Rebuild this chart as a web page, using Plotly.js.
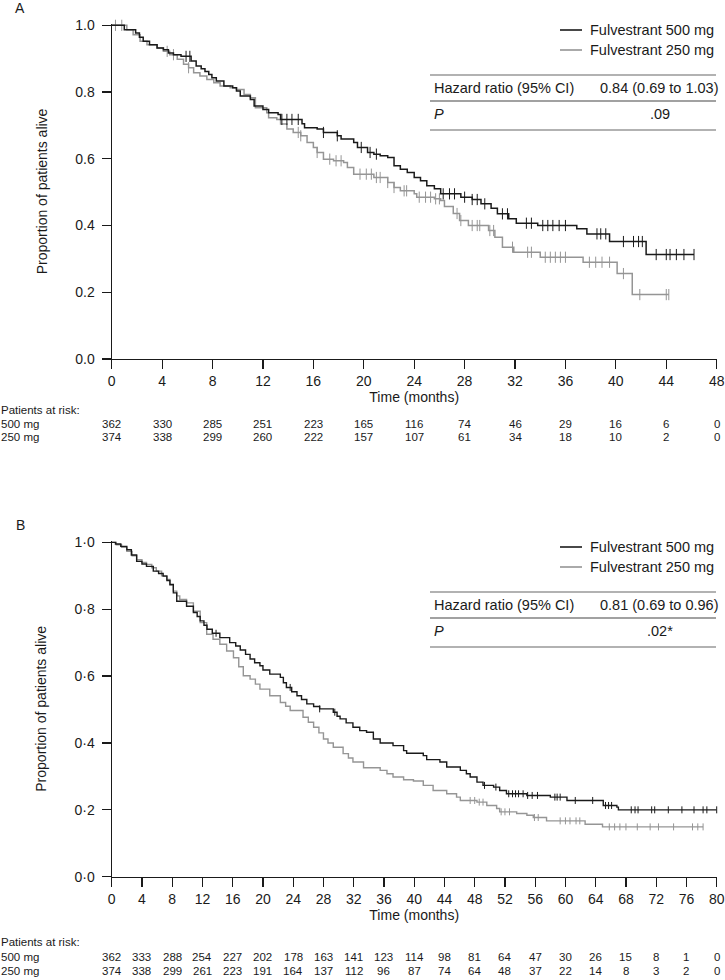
<!DOCTYPE html>
<html>
<head>
<meta charset="utf-8">
<script src="https://cdn.plot.ly/plotly-3.0.1.min.js"></script>
<style>
  html, body { margin: 0; padding: 0; background: #fff; }
  #chart { width: 725px; height: 980px; }
</style>
</head>
<body>
<div id="chart"></div>
<script>
// Panel A - step times (months) and survival after each step
const monthsA500 = [0, 1.0, 1.9, 2.2, 2.5, 3.0, 3.6, 4.1, 4.5, 4.9, 5.5, 6.3, 6.7, 7.1, 7.4, 7.7, 7.95, 8.3, 8.9, 9.6, 9.9, 10.2, 11.0, 11.3, 12.0, 12.45, 13.2, 13.4, 15.1, 15.3, 16.3, 16.8, 17.9, 18.2, 19.2, 19.5, 20.3, 20.8, 21.3, 21.9, 22.4, 22.9, 23.45, 24.0, 24.5, 25.0, 25.6, 26.1, 27.7, 28.6, 29.3, 30.1, 30.6, 31.5, 32.1, 33.8, 36.9, 37.7, 39.5, 42.4, 46.2];
const survA500   = [1.0, 0.987, 0.977, 0.964, 0.952, 0.942, 0.932, 0.927, 0.917, 0.912, 0.907, 0.893, 0.878, 0.870, 0.862, 0.853, 0.843, 0.833, 0.818, 0.813, 0.803, 0.788, 0.778, 0.758, 0.748, 0.738, 0.733, 0.718, 0.705, 0.693, 0.689, 0.679, 0.669, 0.659, 0.649, 0.634, 0.619, 0.614, 0.609, 0.604, 0.579, 0.569, 0.559, 0.544, 0.534, 0.519, 0.510, 0.495, 0.485, 0.478, 0.465, 0.452, 0.435, 0.420, 0.407, 0.400, 0.390, 0.375, 0.352, 0.313, 0.313];
const censorA500 = [5.9, 6.2, 13.5, 13.9, 14.3, 14.8, 16.8, 17.9, 19.8, 20.5, 21.0, 26.3, 26.8, 27.2, 28.0, 28.6, 29.0, 29.6, 31.0, 31.4, 32.9, 33.3, 34.2, 34.6, 35.0, 35.5, 36.0, 38.5, 38.8, 39.2, 40.6, 41.4, 41.8, 42.1, 43.2, 44.0, 44.3, 44.8, 45.4, 46.2];

const monthsA250 = [0, 1.2, 1.7, 2.25, 2.8, 3.6, 4.1, 4.6, 5.2, 5.7, 6.1, 6.5, 7.0, 7.55, 8.1, 8.6, 9.4, 9.9, 10.5, 11.0, 11.4, 12.3, 12.45, 13.1, 13.4, 13.9, 14.4, 15.0, 15.5, 16.0, 16.3, 16.8, 17.6, 18.4, 18.7, 19.2, 20.8, 21.9, 22.4, 22.9, 24.0, 24.2, 25.6, 26.1, 26.4, 27.1, 27.6, 28.3, 29.9, 30.4, 31.0, 31.9, 34.0, 37.4, 40.1, 41.3, 44.2];
const survA250   = [1.0, 0.987, 0.972, 0.952, 0.942, 0.932, 0.922, 0.912, 0.898, 0.883, 0.873, 0.858, 0.848, 0.838, 0.828, 0.818, 0.813, 0.808, 0.793, 0.783, 0.753, 0.738, 0.723, 0.718, 0.704, 0.689, 0.679, 0.669, 0.649, 0.634, 0.619, 0.599, 0.594, 0.589, 0.574, 0.554, 0.544, 0.529, 0.514, 0.504, 0.495, 0.485, 0.480, 0.475, 0.457, 0.436, 0.415, 0.400, 0.385, 0.365, 0.335, 0.320, 0.305, 0.290, 0.256, 0.193, 0.193];
const censorA250 = [0.3, 0.8, 4.4, 4.9, 6.1, 14.8, 15.0, 16.3, 17.3, 17.8, 18.2, 19.7, 20.2, 20.6, 21.0, 21.3, 21.9, 22.4, 23.2, 23.4, 24.4, 24.9, 25.3, 25.7, 26.0, 27.4, 27.7, 28.6, 29.0, 29.2, 30.0, 30.3, 31.8, 33.0, 33.3, 34.4, 34.8, 35.2, 35.6, 36.0, 37.9, 38.4, 38.9, 39.5, 40.6, 41.9, 44.0, 44.2];

// Panel B - step times (months) and survival after each step
const monthsB500 = [0, 0.5, 1.2, 2.0, 2.6, 3.3, 4.0, 4.6, 5.5, 6.2, 6.8, 7.3, 7.7, 8.15, 8.6, 9.9, 10.8, 11.3, 11.7, 12.2, 12.6, 13.3, 14.3, 15.6, 16.4, 17.0, 17.7, 18.3, 18.9, 19.6, 20.0, 20.9, 22.3, 22.7, 23.1, 23.8, 24.5, 25.1, 25.8, 26.7, 27.5, 29.3, 29.8, 30.2, 31.0, 31.9, 32.8, 33.7, 34.6, 35.5, 37.2, 38.6, 39.0, 41.2, 41.65, 43.4, 44.3, 46.1, 46.9, 47.4, 48.3, 49.1, 50.5, 51.3, 52.2, 54.9, 58.0, 60.2, 65.0, 66.8, 67.0, 80.0];
const survB500   = [1.0, 0.995, 0.988, 0.978, 0.962, 0.943, 0.935, 0.928, 0.914, 0.907, 0.899, 0.886, 0.874, 0.849, 0.824, 0.809, 0.790, 0.778, 0.765, 0.752, 0.740, 0.728, 0.715, 0.700, 0.690, 0.678, 0.665, 0.651, 0.640, 0.631, 0.618, 0.606, 0.596, 0.580, 0.566, 0.553, 0.541, 0.530, 0.517, 0.509, 0.502, 0.492, 0.480, 0.472, 0.460, 0.447, 0.437, 0.432, 0.412, 0.400, 0.392, 0.377, 0.369, 0.362, 0.350, 0.343, 0.328, 0.318, 0.308, 0.298, 0.283, 0.273, 0.268, 0.258, 0.248, 0.243, 0.238, 0.228, 0.213, 0.208, 0.200, 0.200];
const censorB500 = [13.8, 23.6, 27.5, 29.5, 49.3, 50.8, 52.5, 53.0, 53.4, 53.8, 54.4, 55.0, 55.6, 56.3, 58.6, 58.9, 59.3, 61.3, 63.6, 65.3, 65.7, 66.1, 68.7, 69.2, 69.6, 71.4, 71.8, 73.6, 75.4, 77.0, 78.2, 78.7, 80.0];

const monthsB250 = [0, 0.6, 1.3, 2.0, 2.7, 3.3, 4.0, 4.6, 5.3, 5.9, 6.6, 7.27, 7.7, 8.15, 8.6, 9.0, 9.9, 10.8, 11.7, 12.56, 13.4, 14.3, 15.2, 16.1, 16.8, 17.4, 18.3, 19.0, 19.6, 20.9, 22.3, 23.0, 23.6, 25.3, 26.0, 26.7, 27.4, 28.0, 28.6, 29.3, 30.6, 31.3, 31.9, 33.3, 35.5, 36.4, 37.2, 38.6, 39.9, 41.2, 42.5, 44.3, 45.6, 46.1, 48.3, 49.6, 50.9, 51.3, 53.55, 54.9, 55.75, 57.5, 62.6, 64.9, 78.2];
const survB250   = [1.0, 0.993, 0.985, 0.973, 0.960, 0.948, 0.940, 0.934, 0.924, 0.914, 0.900, 0.889, 0.872, 0.854, 0.840, 0.829, 0.819, 0.794, 0.760, 0.725, 0.710, 0.695, 0.675, 0.655, 0.628, 0.601, 0.591, 0.576, 0.561, 0.541, 0.521, 0.510, 0.497, 0.477, 0.462, 0.447, 0.430, 0.412, 0.400, 0.387, 0.368, 0.355, 0.343, 0.326, 0.318, 0.308, 0.298, 0.290, 0.286, 0.273, 0.258, 0.248, 0.238, 0.228, 0.223, 0.213, 0.204, 0.194, 0.189, 0.184, 0.177, 0.167, 0.157, 0.149, 0.149];
const censorB250 = [47.4, 48.0, 48.6, 49.1, 51.5, 52.0, 52.6, 55.9, 56.4, 59.3, 60.0, 60.6, 61.4, 61.9, 65.8, 66.5, 67.2, 68.0, 69.5, 71.2, 72.3, 74.3, 76.8, 77.5, 78.2];

// Patients at risk
const riskMonthsA = [0, 4, 8, 12, 16, 20, 24, 28, 32, 36, 40, 44, 48];
const riskA500 = [362, 330, 285, 251, 223, 165, 116, 74, 46, 29, 16, 6, 0];
const riskA250 = [374, 338, 299, 260, 222, 157, 107, 61, 34, 18, 10, 2, 0];
const riskMonthsB = [0, 4, 8, 12, 16, 20, 24, 28, 32, 36, 40, 44, 48, 52, 56, 60, 64, 68, 72, 76, 80];
const riskB500 = [362, 333, 288, 254, 227, 202, 178, 163, 141, 123, 114, 98, 81, 64, 47, 30, 26, 15, 8, 1, 0];
const riskB250 = [374, 338, 299, 261, 223, 191, 164, 137, 112, 96, 87, 74, 64, 48, 37, 22, 14, 8, 3, 2, 0];

// Axis tick labels
const yTicks = [0, 0.2, 0.4, 0.6, 0.8, 1.0];
const yLabelsA = ['0.0', '0.2', '0.4', '0.6', '0.8', '1.0'];
const yLabelsB = ['0\u00b70', '0\u00b72', '0\u00b74', '0\u00b76', '0\u00b78', '1\u00b70'];

// Table text
const seriesNames = ['Fulvestrant 500 mg', 'Fulvestrant 250 mg'];
const hazardA = '0.84 (0.69 to 1.03)';
const pA = '.09';
const hazardB = '0.81 (0.69 to 0.96)';
const pB = '.02*';

const W = 725, H = 980;
const FONT = 'Liberation Sans, Arial, Helvetica, sans-serif';
const BLACK = '#1a1a1a';
const GREY = '#959595';

// pixel -> paper helpers
const px = x => x / W;
const py = y => 1 - y / H;

// survival at a given time from the step arrays
function survAt(months, surv, t) {
  let s = surv[0];
  for (let i = 0; i < months.length; i++) {
    if (months[i] <= t) s = surv[i];
  }
  return s;
}

function curve(months, surv, color, xa, ya, width) {
  return {
    x: months, y: surv, xaxis: xa, yaxis: ya,
    type: 'scatter', mode: 'lines',
    line: { color: color, width: width, shape: 'hv' },
    hoverinfo: 'skip', showlegend: false
  };
}

function censors(cens, months, surv, color, xa, ya, size) {
  return {
    x: cens, y: cens.map(t => survAt(months, surv, t)), xaxis: xa, yaxis: ya,
    type: 'scatter', mode: 'markers', cliponaxis: false,
    marker: { symbol: 'line-ns-open', size: size, color: color, line: { width: 1, color: color } },
    hoverinfo: 'skip', showlegend: false
  };
}

const traces = [
  curve(monthsA250, survA250, GREY, 'x', 'y', 1.5),
  censors(censorA250, monthsA250, survA250, GREY, 'x', 'y', 8),
  curve(monthsA500, survA500, BLACK, 'x', 'y', 1.5),
  censors(censorA500, monthsA500, survA500, BLACK, 'x', 'y', 8),
  curve(monthsB250, survB250, GREY, 'x2', 'y2', 1.4),
  censors(censorB250, monthsB250, survB250, GREY, 'x2', 'y2', 5),
  curve(monthsB500, survB500, BLACK, 'x2', 'y2', 1.4),
  censors(censorB500, monthsB500, survB500, BLACK, 'x2', 'y2', 5)
];

const xDomain = [px(111.7), px(716.7)];

function xAxis(maxMonth, yref) {
  return {
    domain: xDomain, anchor: yref, range: [0, maxMonth],
    tickmode: 'linear', tick0: 0, dtick: 4,
    ticks: 'outside', ticklen: 9, tickwidth: 1.2, tickcolor: BLACK,
    showline: true, linecolor: BLACK, linewidth: 1.2,
    showgrid: false, zeroline: false, fixedrange: true,
    tickfont: { size: 14, color: BLACK },
    title: { text: 'Time (months)', font: { size: 14, color: BLACK }, standoff: 2 }
  };
}

function yAxis(domain, labels, xref) {
  return {
    domain: domain, anchor: xref, range: [0, 1.004],
    tickmode: 'array', tickvals: yTicks, ticktext: labels,
    ticks: 'outside', ticklen: 9, tickwidth: 1.2, tickcolor: BLACK,
    ticklabelstandoff: 4,
    showline: true, linecolor: BLACK, linewidth: 1.2,
    showgrid: false, zeroline: false, fixedrange: true,
    tickfont: { size: 14, color: BLACK },
    title: { text: 'Proportion of patients alive', font: { size: 14, color: BLACK }, standoff: 24 }
  };
}

const annotations = [];
const shapes = [];

function text(str, x, y, opts) {
  annotations.push(Object.assign({
    text: str, x: px(x), y: py(y), xref: 'paper', yref: 'paper',
    xanchor: 'left', yanchor: 'middle', showarrow: false, borderpad: 0,
    font: { size: 14.5, color: BLACK, family: FONT }
  }, opts || {}));
}

function hline(x0, x1, y, color, width) {
  shapes.push({
    type: 'line', xref: 'paper', yref: 'paper',
    x0: px(x0), x1: px(x1), y0: py(y), y1: py(y),
    line: { color: color, width: width }
  });
}

// Legend + hazard ratio table for one panel
function panelBox(top, hazard, pval) {
  hline(560, 582, top, BLACK, 1.6);
  hline(560, 582, top + 20, GREY, 1.6);
  text(seriesNames[0], 589, top);
  text(seriesNames[1], 589, top + 20);
  const t0 = top + 45;
  hline(430, 716, t0, '#666', 1.2);
  text('Hazard ratio (95% CI)', 433, t0 + 13);
  text(hazard, 720, t0 + 13, { xanchor: 'right' });
  hline(430, 716, t0 + 26, '#444', 1.2);
  text('<i>P</i>', 433, t0 + 39);
  text(pval, 660, t0 + 39, { xanchor: 'center' });
  hline(430, 716, t0 + 55, '#666', 1.2);
}

// Patients at risk block for one panel
function riskBlock(months, r500, r250, xref, yHead, y500, y250) {
  const f = { size: 11.5, color: BLACK, family: FONT };
  text('Patients at risk:', 0, yHead, { font: f });
  text('500 mg', 0, y500, { font: f });
  text('250 mg', 0, y250, { font: f });
  months.forEach((m, i) => {
    [[r500[i], y500], [r250[i], y250]].forEach(([val, yy]) => {
      annotations.push({
        text: String(val), x: m, xref: xref, y: py(yy), yref: 'paper',
        xanchor: 'center', yanchor: 'middle', showarrow: false, borderpad: 0,
        font: f
      });
    });
  });
}

text('A', 20, 8, { xanchor: 'center', font: { size: 14, color: BLACK, family: FONT } });
text('B', 20, 525, { xanchor: 'center', font: { size: 14, color: BLACK, family: FONT } });
panelBox(30, hazardA, pA);
panelBox(547, hazardB, pB);
riskBlock(riskMonthsA, riskA500, riskA250, 'x', 410, 423.5, 436.5);
riskBlock(riskMonthsB, riskB500, riskB250, 'x2', 942, 957, 971);

const layout = {
  width: W, height: H,
  margin: { l: 0, r: 0, t: 0, b: 0 },
  paper_bgcolor: '#fff', plot_bgcolor: '#fff',
  font: { family: FONT, size: 14, color: BLACK },
  showlegend: false,
  xaxis: xAxis(48, 'y'),
  yaxis: yAxis([py(359), py(24)], yLabelsA, 'x'),
  xaxis2: xAxis(80, 'y2'),
  yaxis2: yAxis([py(876.7), py(541)], yLabelsB, 'x2'),
  annotations: annotations,
  shapes: shapes
};

Plotly.newPlot('chart', traces, layout, { displayModeBar: false, staticPlot: true });
</script>
</body>
</html>
